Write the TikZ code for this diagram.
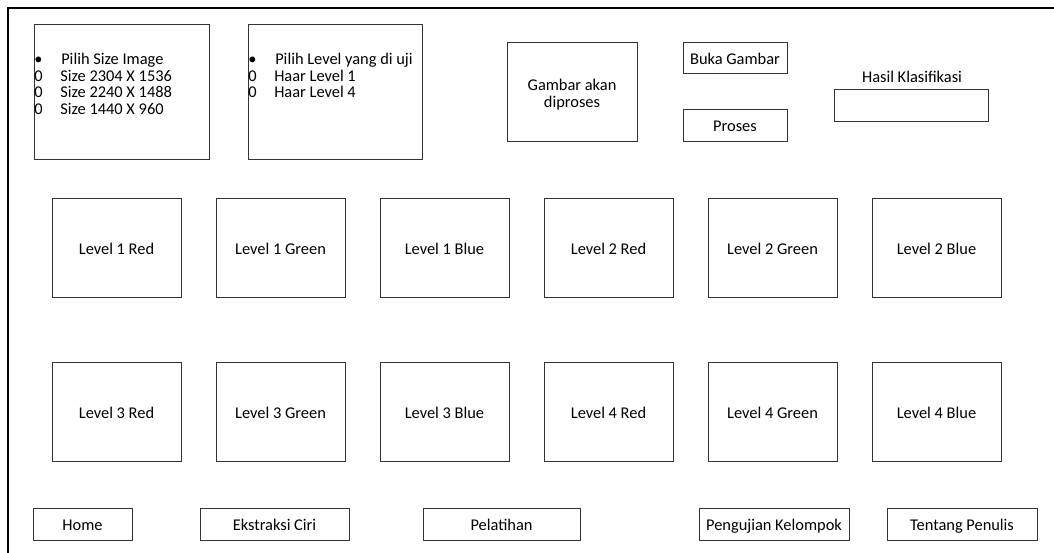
\documentclass[tikz,border=0pt]{standalone}
\usepackage{fontspec}
\setmainfont{Carlito}
\usetikzlibrary{fit}
\begin{document}
\begin{tikzpicture}[x=0.75pt,y=-0.75pt,
  box/.style={draw=black!80, line width=0.75pt, inner sep=0pt},
  lbl/.style={inner sep=0pt, align=center, font=\fontsize{12.3}{14.5}\selectfont, text height=1.5ex, text depth=.25ex, yshift=-2.2pt},
  txt/.style={lbl, anchor=west},
  frame/.style={draw=black, line width=1.1pt}]
  \useasboundingbox (0,0) rectangle (1054,553);
  % window frame (extends past the page on right and bottom)
  \draw[frame] (1054,8) -- (8,8) -- (8,553);

  % option panels
  \node[box, fit={(34,24) (209,159)}] (size) {};
  \node[txt] (s0) at (34,58) {•};
  \node[txt] (s1) at (61,58) {Pilih Size Image};
  \node[txt] (s2) at (34,74.5) {0};
  \node[txt] (s3) at (60,74.5) {Size 2304 X 1536};
  \node[txt] (s4) at (34,91) {0};
  \node[txt] (s5) at (60,91) {Size 2240 X 1488};
  \node[txt] (s6) at (34,107.5) {0};
  \node[txt] (s7) at (60,107.5) {Size 1440 X 960};

  \node[box, fit={(248,24) (422,159)}] (level) {};
  \node[txt] (l0) at (248,58) {•};
  \node[txt] (l1) at (275,58) {Pilih Level yang di uji};
  \node[txt] (l2) at (248,74.5) {0};
  \node[txt] (l3) at (274,74.5) {Haar Level 1};
  \node[txt] (l4) at (248,91) {0};
  \node[txt] (l5) at (274,91) {Haar Level 4};

  % image preview and controls
  \node[box, fit={(507,42) (637,141)}] (img) {};
  \node[lbl] (img1) at (572,84) {Gambar akan};
  \node[lbl] (img2) at (572,101) {diproses};
  \node[box, fit={(683,42) (787,73)}] (buka) {};
  \node[lbl] at (buka.center) {Buka Gambar};
  \node[box, fit={(683,109) (787,141)}] (proses) {};
  \node[lbl] at (proses.center) {Proses};
  \node[lbl] (hasil) at (912,76) {Hasil Klasifikasi};
  \node[box, fit={(834,89) (988,121)}] (hasilbox) {};

  % wavelet sub-band panels
  \foreach \name [count=\i from 0] in {Level 1 Red, Level 1 Green, Level 1 Blue, Level 2 Red, Level 2 Green, Level 2 Blue}{
    \node[box, fit={({52+164*\i},198) ({181+164*\i},297)}] (r1c\i) {};
    \node[lbl] at (r1c\i.center) {\name};
  }
  \foreach \name [count=\i from 0] in {Level 3 Red, Level 3 Green, Level 3 Blue, Level 4 Red, Level 4 Green, Level 4 Blue}{
    \node[box, fit={({52+164*\i},362) ({181+164*\i},461)}] (r2c\i) {};
    \node[lbl] at (r2c\i.center) {\name};
  }

  % navigation menu
  \node[box, fit={(33,508) (132,540)}] (home) {};
  \node[lbl] at (home.center) {Home};
  \node[box, fit={(200,508) (349,540)}] (ekstraksi) {};
  \node[lbl] at (ekstraksi.center) {Ekstraksi Ciri};
  \node[box, fit={(423,508) (580,540)}] (pelatihan) {};
  \node[lbl] at (pelatihan.center) {Pelatihan};
  \node[box, fit={(699,508) (849,540)}] (pengujian) {};
  \node[lbl] at (pengujian.center) {Pengujian Kelompok};
  \node[box, fit={(887,508) (1037,540)}] (tentang) {};
  \node[lbl] at (tentang.center) {Tentang Penulis};
\end{tikzpicture}
\end{document}
